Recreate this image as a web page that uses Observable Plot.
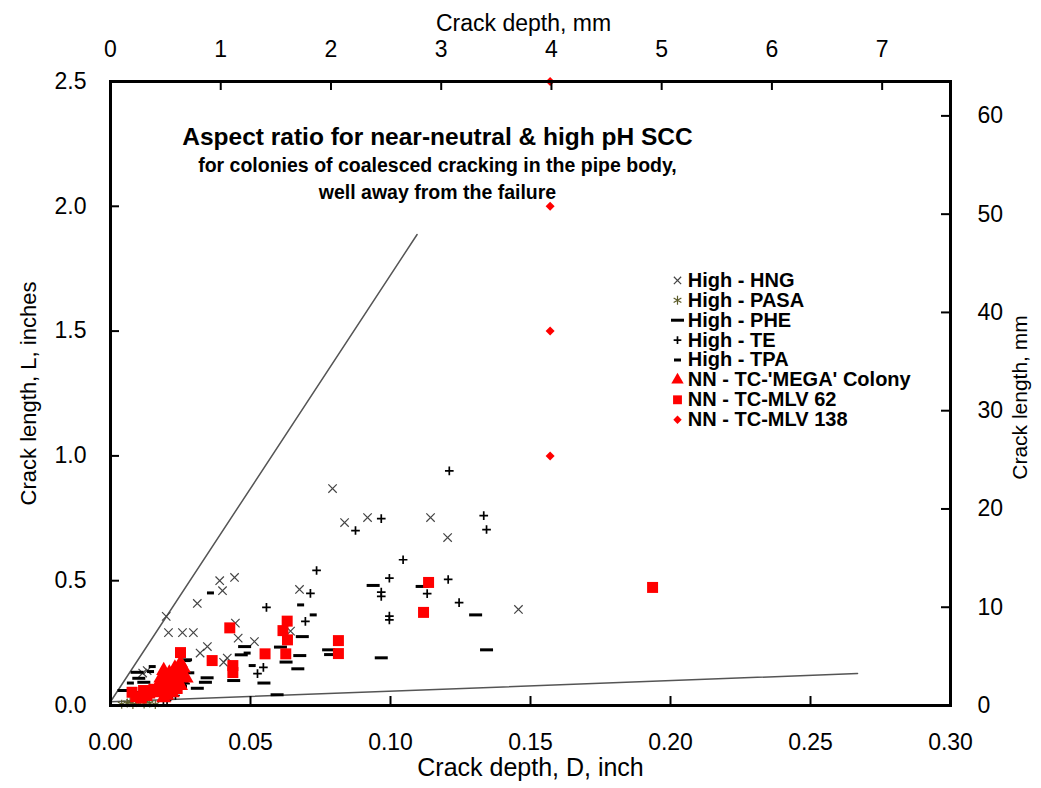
<!DOCTYPE html>
<html><head><meta charset="utf-8">
<script src="https://cdn.jsdelivr.net/npm/d3@7"></script>
<script src="https://cdn.jsdelivr.net/npm/@observablehq/plot@0.6"></script>
<style>
body{margin:0;background:#fff;}
#chart svg{display:block;}
</style></head><body><div id="chart"></div>
<script>
// ---- data: [crack depth D (inch), crack length L (inch)] ----
const seriesNames = ["High - HNG","High - PASA","High - PHE","High - TE","High - TPA","NN - TC-'MEGA' Colony","NN - TC-MLV 62","NN - TC-MLV 138"];

const hng = [[0.0793,0.869],[0.0836,0.733],[0.0918,0.753],[0.1143,0.753],[0.1204,0.673],[0.1457,0.385],
 [0.039,0.50],[0.0443,0.513],[0.040,0.46],[0.0199,0.357],[0.0207,0.292],[0.0257,0.292],[0.0296,0.292],
 [0.031,0.409],[0.0675,0.465],[0.0446,0.33],[0.0456,0.27],[0.0514,0.256],[0.032,0.21],[0.0346,0.236],
 [0.0417,0.19],[0.0404,0.173],[0.0643,0.298],[0.0131,0.14],[0.0115,0.13]];

const pasa = [[0.004,0.005],[0.006,0.01],[0.008,0.004],[0.010,0.012],[0.012,0.006],[0.014,0.01],[0.016,0.004],[0.009,0.02],[0.013,0.018],[0.007,0.015]];

const phe = [[0.0938,0.481],[0.1113,0.477],[0.1304,0.363],[0.1343,0.223],[0.0967,0.191],[0.0779,0.223],[0.0786,0.204],
 [0.0685,0.276],[0.0607,0.234],[0.0676,0.2],[0.0627,0.174],[0.0669,0.147],[0.0479,0.236],[0.0467,0.203],[0.0548,0.09],
 [0.0595,0.043],[0.0268,0.183],[0.0276,0.131],[0.0345,0.111],[0.0339,0.093],[0.031,0.069],[0.025,0.107],[0.0256,0.093],
 [0.025,0.076],[0.0095,0.133],[0.0101,0.109],[0.0119,0.093],[0.0048,0.06],[0.044,0.10]];

const te = [[0.121,0.94],[0.0967,0.749],[0.1333,0.761],[0.1343,0.705],[0.0875,0.701],[0.1045,0.584],[0.0736,0.541],
 [0.0996,0.51],[0.1206,0.505],[0.0714,0.449],[0.0967,0.454],[0.0967,0.437],[0.1131,0.448],[0.1245,0.412],[0.0557,0.393],
 [0.0696,0.337],[0.0996,0.358],[0.0996,0.343],[0.0546,0.153],[0.0525,0.128],[0.0232,0.04],[0.0202,0.02],[0.0189,0.02],
 [0.0268,0.088],[0.0221,0.04],[0.011,0.055]];

const tpa = [[0.0357,0.451],[0.0679,0.403],[0.0724,0.363],[0.0818,0.272],[0.0149,0.156],[0.0506,0.16],[0.0488,0.21],
 [0.0274,0.18],[0.0143,0.136],[0.0181,0.11],[0.0071,0.09],[0.0203,0.085]];

const mega = [[0.019,0.14],[0.021,0.13],[0.023,0.15],[0.025,0.17],[0.024,0.13],[0.026,0.12],[0.018,0.11],[0.020,0.10],
 [0.022,0.11],[0.024,0.10],[0.017,0.08],[0.019,0.07],[0.021,0.08],[0.023,0.07],[0.025,0.08],[0.018,0.05],[0.020,0.04],
 [0.022,0.05],[0.019,0.03],[0.016,0.06],[0.027,0.11],[0.026,0.15]];

const mlv62 = [[0.1936,0.473],[0.1136,0.493],[0.1118,0.373],[0.0814,0.26],[0.0814,0.208],[0.0631,0.338],[0.0616,0.30],
 [0.0632,0.263],[0.0626,0.207],[0.0552,0.207],[0.0426,0.311],[0.0363,0.18],[0.0437,0.16],[0.0437,0.132],[0.025,0.212],
 [0.0077,0.053],[0.0118,0.06],[0.013,0.04],[0.011,0.03],[0.0155,0.065],[0.0238,0.068],[0.0215,0.09],[0.009,0.035],[0.014,0.05]];

const mlv138 = [[0.157,2.5],[0.157,2.0],[0.157,1.5],[0.157,1.0]];

// reference lines (aspect-ratio bounds)
const upperBound = [[0,0.015],[0.1095,1.887]];
const lowerBound = [[0,0.015],[0.2668,0.128]];

// ticks
const depthInchTicks = [0,0.05,0.10,0.15,0.20,0.25,0.30];
const lengthInchTicks = [0,0.5,1.0,1.5,2.0,2.5];
const depthMmTicks = [0,1,2,3,4,5,6,7];
const lengthMmTicks = [0,10,20,30,40,50,60];
const MM = 25.4;

// ---- styling ----
const dashLong = {draw(ctx){ctx.moveTo(-6.5,0);ctx.lineTo(6.5,0);}};
const dashShort = {draw(ctx){ctx.moveTo(-3.5,0);ctx.lineTo(3.5,0);}};
const diamondSym = (h) => ({draw(ctx){ctx.moveTo(0,-h);ctx.lineTo(h,0);ctx.lineTo(0,h);ctx.lineTo(-h,0);ctx.closePath();}});
const styles = [
  {data: hng,   symbol: "times",   r: 3.9, lr: 3.4, stroke: "#444", strokeWidth: 1.2, fill: "none"},
  {data: pasa,  symbol: "asterisk",r: 4.2, lr: 4.2, stroke: "#5c5c2a", strokeWidth: 1.2, fill: "none"},
  {data: phe,   symbol: dashLong,  r: 3,   lr: 3,   stroke: "black", strokeWidth: 3, fill: "none"},
  {data: te,    symbol: "plus",    r: 2.9, lr: 2.6, stroke: "black", strokeWidth: 1.7, fill: "none"},
  {data: tpa,   symbol: dashShort, r: 3,   lr: 3,   stroke: "black", strokeWidth: 3, fill: "none"},
  {data: mega,  symbol: "triangle",r: 5.6, lr: 4.6, stroke: "none", fill: "red"},
  {data: mlv62, symbol: "square",  r: 6.2, lr: 5,   stroke: "none", fill: "red"},
  {data: mlv138,symbol: diamondSym(4.5), lsymbol: diamondSym(4.2), r: 3, lr: 3, stroke: "none", fill: "red"}
];

const legendTop = 1.703, legendStep = 0.0797, legendX = 0.2025, legendTextX = 0.2062;

const marks = [];
marks.push(Plot.line(upperBound, {x: d=>d[0], y: d=>d[1], stroke: "#555", strokeWidth: 1.5}));
marks.push(Plot.line(lowerBound, {x: d=>d[0], y: d=>d[1], stroke: "#555", strokeWidth: 1.5}));
styles.forEach((s, i) => {
  const opt = {stroke: s.stroke, fill: s.fill};
  if (s.strokeWidth) opt.strokeWidth = s.strokeWidth;
  marks.push(Plot.dot(s.data, {x: d=>d[0], y: d=>d[1], symbol: s.symbol, r: s.r, ...opt}));
  // legend entry
  const legendRow = [{x: legendX, y: legendTop - i*legendStep, label: seriesNames[i]}];
  marks.push(Plot.dot(legendRow, {x: "x", y: "y", symbol: s.lsymbol || s.symbol, r: s.lr, ...opt}));
  marks.push(Plot.text(legendRow, {x: legendTextX, y: "y", text: "label", textAnchor: "start", fontWeight: "bold", fontSize: 20, fill: "black"}));
});

// axes (labels only; inward tick marks drawn below)
marks.push(Plot.axisX({anchor: "bottom", ticks: depthInchTicks, tickFormat: d3.format(".2f"), tickSize: 0, tickPadding: 28, label: null, fontSize: 23}));
marks.push(Plot.axisX({anchor: "top", ticks: depthMmTicks.map(m=>m/MM), tickFormat: d=>String(Math.round(d*MM)), tickSize: 0, tickPadding: 25, label: null, fontSize: 23}));
marks.push(Plot.axisY({anchor: "left", ticks: lengthInchTicks, tickFormat: d3.format(".1f"), tickSize: 0, tickPadding: 24, label: null, fontSize: 23}));
marks.push(Plot.axisY({anchor: "right", ticks: lengthMmTicks.map(m=>m/MM), tickFormat: d=>String(Math.round(d*MM)), tickSize: 0, tickPadding: 27, label: null, fontSize: 23}));
// inward tick marks (frame is 840 x 624 px; ticks 9 px long)
marks.push(Plot.tickX(depthInchTicks, {x: d=>d, insetTop: 615, stroke: "black", strokeWidth: 2}));
marks.push(Plot.tickX(depthMmTicks.map(m=>m/MM), {x: d=>d, insetBottom: 615, stroke: "black", strokeWidth: 2}));
marks.push(Plot.tickY(lengthInchTicks, {y: d=>d, insetRight: 831, stroke: "black", strokeWidth: 2}));
marks.push(Plot.tickY(lengthMmTicks.map(m=>m/MM), {y: d=>d, insetLeft: 831, stroke: "black", strokeWidth: 2}));
marks.push(Plot.frame({stroke: "black", strokeWidth: 3}));

// axis titles
marks.push(Plot.text(["Crack depth, D, inch"], {frameAnchor: "bottom", dy: 70, fontSize: 25, fill: "black"}));
marks.push(Plot.text(["Crack depth, mm"], {frameAnchor: "top", dx: -7, dy: -67, fontSize: 23, fill: "black"}));
marks.push(Plot.text(["Crack length, L, inches"], {frameAnchor: "left", dx: -82, rotate: -90, textAnchor: "middle", fontSize: 22, fill: "black"}));
marks.push(Plot.text(["Crack length, mm"], {frameAnchor: "right", dx: 70, dy: 4, rotate: -90, textAnchor: "middle", fontSize: 21, fill: "black"}));

// title block
marks.push(Plot.text(["Aspect ratio for near-neutral & high pH SCC"], {frameAnchor: "top", dx: -93, dy: 46, fontSize: 24.5, fontWeight: "bold", fill: "black"}));
marks.push(Plot.text(["for colonies of coalesced cracking in the pipe body,"], {frameAnchor: "top", dx: -93, dy: 77, fontSize: 19.5, fontWeight: "bold", fill: "black"}));
marks.push(Plot.text(["well away from the failure"], {frameAnchor: "top", dx: -93, dy: 104, fontSize: 19.5, fontWeight: "bold", fill: "black"}));

const chart = Plot.plot({
  width: 1041, height: 788,
  marginLeft: 110, marginRight: 91, marginTop: 81, marginBottom: 83,
  x: {domain: [0, 0.3]},
  y: {domain: [0, 2.5]},
  style: {fontFamily: "'Liberation Sans', Arial, sans-serif", fontSize: "23px", color: "black", background: "white", overflow: "visible"},
  marks
});
document.getElementById("chart").appendChild(chart);
</script></body></html>
